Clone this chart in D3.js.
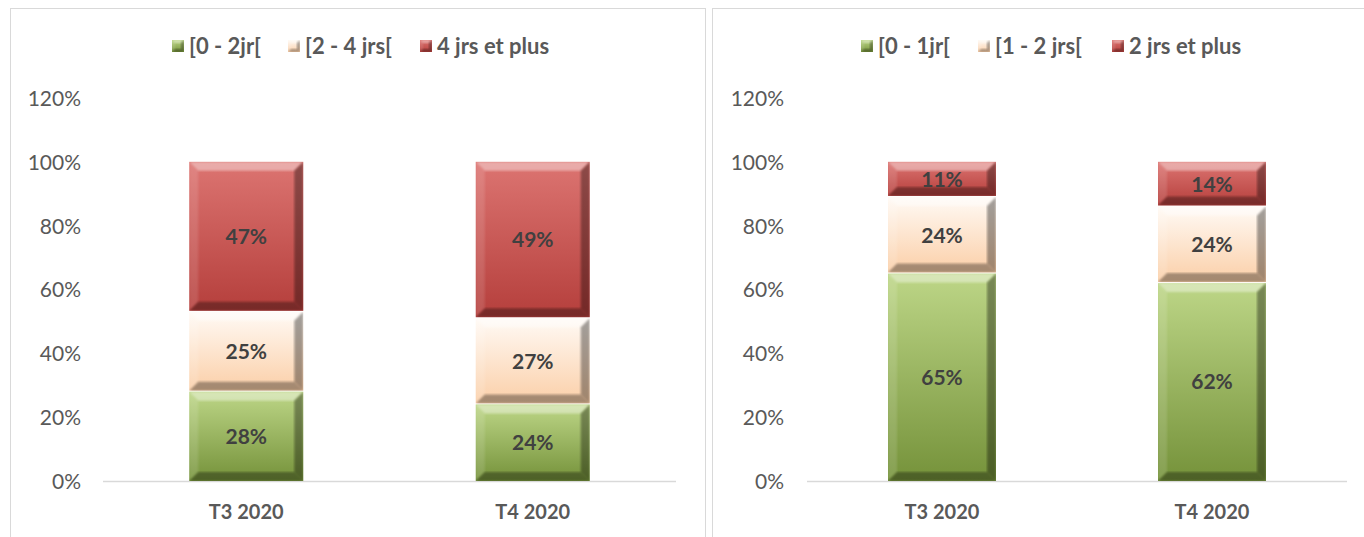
<!DOCTYPE html>
<html>
<head>
<meta charset="utf-8">
<script src="https://cdn.jsdelivr.net/npm/d3@7"></script>
<style>
  html, body { margin: 0; padding: 0; background: #ffffff; }
  svg { display: block; }
  text { font-family: Lato, "Open Sans", "Liberation Sans", sans-serif; }
</style>
</head>
<body>
<svg id="chart" width="1364" height="537"></svg>
<script>
// Periods shown on both charts
const categories = ["T3 2020", "T4 2020"];

// Left chart: delay bands (share of cases)
const leftSeries = ["[0 - 2jr[", "[2 - 4 jrs[", "4 jrs et plus"];
const leftLow  = [0.28, 0.24];
const leftMid  = [0.25, 0.27];
const leftHigh = [0.47, 0.49];

// Right chart: delay bands (share of cases)
const rightSeries = ["[0 - 1jr[", "[1 - 2 jrs[", "2 jrs et plus"];
const rightLow  = [0.65, 0.62];
const rightMid  = [0.24, 0.24];
const rightHigh = [0.11, 0.14];

// Axis ticks
const tickValues = [0, 0.2, 0.4, 0.6, 0.8, 1.0, 1.2];

const svg = d3.select("#chart");
const defs = svg.append("defs");

// Fill styles for the three bands: top / bottom colours of the body gradient
const palette = [
  { id: "g", top: "#bdd687", bottom: "#75923a" },
  { id: "p", top: "#fffaf5", bottom: "#fbcfa8" },
  { id: "r", top: "#dc7471", bottom: "#b53f3c" }
];
palette.forEach(c => {
  const lg = defs.append("linearGradient").attr("id", "body-" + c.id)
    .attr("x1", 0).attr("y1", 0).attr("x2", 0).attr("y2", 1);
  lg.append("stop").attr("offset", "0%").attr("stop-color", c.top);
  lg.append("stop").attr("offset", "100%").attr("stop-color", c.bottom);
});
defs.append("filter").attr("id", "soft")
  .append("feGaussianBlur").attr("stdDeviation", 1.2);

let clipCount = 0;

// Draws one bevelled block
function bevelBlock(g, x, y, w, h, colourIdx, bevel) {
  const b = Math.min(bevel, h / 3, w / 3);
  const c = palette[colourIdx];
  const blk = g.append("g");
  blk.append("rect").attr("x", x).attr("y", y).attr("width", w).attr("height", h)
    .attr("fill", `url(#body-${c.id})`);
  const clipId = "blockclip" + (clipCount++);
  defs.append("clipPath").attr("id", clipId)
    .append("rect").attr("x", x).attr("y", y).attr("width", w).attr("height", h);
  const edges = blk.append("g").attr("clip-path", `url(#${clipId})`);
  const poly = (pts, fill, op) => edges.append("polygon")
    .attr("points", pts.map(p => p.join(",")).join(" "))
    .attr("fill", fill).attr("fill-opacity", op)
    .attr("filter", "url(#soft)");
  // top highlight
  poly([[x, y], [x + w, y], [x + w - b, y + b], [x + b, y + b]], "#ffffff", 0.4);
  // left soft light
  poly([[x, y], [x + b, y + b], [x + b, y + h - b], [x, y + h]], "#ffffff", 0.12);
  // right shade
  poly([[x + w, y], [x + w, y + h], [x + w - b, y + h - b], [x + w - b, y + b]], "#000000", 0.36);
  // bottom shade
  poly([[x, y + h], [x + b, y + h - b], [x + w - b, y + h - b], [x + w, y + h]], "#000000", 0.34);
}

function drawPanel(opts) {
  const { frame, plotX, legend, seriesNames, seriesValues, labelRight } = opts;
  const g = svg.append("g");

  // panel frame
  g.append("rect").attr("x", frame.x + 0.5).attr("y", frame.y + 0.5)
    .attr("width", frame.w).attr("height", frame.h)
    .attr("fill", "#ffffff").attr("stroke", "#d9d9d9").attr("stroke-width", 1);

  const y = d3.scaleLinear().domain([0, 1.2]).range([481, 98]);
  const x = d3.scaleBand().domain(categories).range(plotX)
    .paddingInner(opts.pad).paddingOuter(opts.pad / 2);

  // Y axis (labels only)
  const yAxis = d3.axisLeft(y).tickValues(tickValues).tickFormat(d3.format(".0%"))
    .tickSize(0).tickPadding(0);
  const ya = g.append("g").attr("transform", `translate(${labelRight},0)`).call(yAxis);
  ya.select(".domain").remove();
  ya.selectAll("text").attr("fill", "#595959").style("font-size", "21px")
    .style("font-family", "Lato, 'Open Sans', sans-serif").attr("dy", "0.35em");

  // Baseline
  g.append("line").attr("x1", plotX[0]).attr("x2", plotX[1])
    .attr("y1", y(0) + 0.5).attr("y2", y(0) + 0.5)
    .attr("stroke", "#d9d9d9").attr("stroke-width", 1.5);

  // X axis labels
  const xAxis = d3.axisBottom(x).tickSize(0).tickPadding(0);
  const xa = g.append("g").attr("transform", `translate(0,${y(0) + 31})`).call(xAxis);
  xa.select(".domain").remove();
  xa.selectAll("text").attr("fill", "#595959").style("font-size", "20px")
    .style("font-weight", "bold").style("font-family", "Lato, 'Open Sans', sans-serif")
    .attr("dy", "0.35em");

  // Stacked blocks
  const stackData = categories.map((c, i) => {
    const row = { cat: c };
    seriesNames.forEach((s, k) => row[s] = seriesValues[k][i]);
    return row;
  });
  const stacked = d3.stack().keys(seriesNames)(stackData);
  const bars = g.append("g");
  stacked.forEach((layer, k) => {
    layer.forEach(seg => {
      const cat = seg.data.cat;
      const x0 = x(cat);
      const top = y(seg[1]);
      const bot = y(seg[0]);
      const gap = k > 0 ? 1 : 0;
      bevelBlock(bars, x0, top, x.bandwidth(), bot - top - gap, k, 9);
      bars.append("text")
        .attr("x", x0 + x.bandwidth() / 2)
        .attr("y", (top + bot) / 2)
        .attr("dy", "0.35em")
        .attr("text-anchor", "middle")
        .attr("fill", "#404040")
        .style("font-size", "21px").style("font-weight", "bold")
        .text(d3.format(".0%")(seg[1] - seg[0]));
    });
  });

  // Legend
  const lg = g.append("g");
  seriesNames.forEach((s, k) => {
    const lx = legend[k];
    bevelBlock(lg, lx, 40, 12, 12, k, 3);
    lg.append("text").attr("x", lx + 17).attr("y", 46.5).attr("dy", "0.35em")
      .attr("fill", "#595959").style("font-size", "22px").style("font-weight", "bold")
      .text(s);
  });
}

drawPanel({
  frame: { x: 10, y: 8, w: 695, h: 560 },
  plotX: [103, 676],
  pad: 0.602,
  labelRight: 81,
  legend: [172, 288, 420],
  seriesNames: leftSeries,
  seriesValues: [leftLow, leftMid, leftHigh]
});

drawPanel({
  frame: { x: 712, y: 8, w: 700, h: 560 },
  plotX: [807, 1347],
  pad: 0.6,
  labelRight: 784,
  legend: [861, 978, 1112],
  seriesNames: rightSeries,
  seriesValues: [rightLow, rightMid, rightHigh]
});
</script>
</body>
</html>
